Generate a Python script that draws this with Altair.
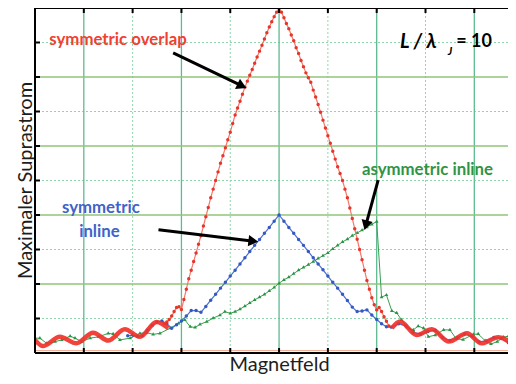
import math
import altair as alt
import pandas as pd
import numpy as np

FONT = "Lato"
XMAX = 9.69          # visible part of the field axis (gridlines at 1..9)
W, H = 473, 345
PX_X = W / XMAX
PX_Y = H / 10.0
X_TITLE = "Magnetfeld"
Y_TITLE = "Maximaler Suprastrom"

# ---------------- data ----------------
# symmetric overlap: thick oscillating background (red)
red_wave_left_x = [0.00, 0.16, 0.51, 0.85, 1.19, 1.50, 1.84, 2.15, 2.49, 2.73]
red_wave_left_y = [0.38, 0.20, 0.47, 0.28, 0.59, 0.36, 0.69, 0.47, 0.90, 0.72]
red_wave_right_x = [7.31, 7.48, 7.82, 8.13, 8.48, 8.85, 9.15, 9.49, 9.86]
red_wave_right_y = [0.72, 0.91, 0.52, 0.69, 0.33, 0.57, 0.28, 0.46, 0.17]

# symmetric overlap: main lobe, sampled every 0.05 from 2.65
red_lobe_start, red_lobe_step = 2.65, 0.05
red_lobe_y = [0.85, 0.90, 0.97, 1.07, 1.20, 1.32, 1.34, 1.26,
              1.55, 1.85, 2.15, 2.40, 2.65, 2.90, 3.15, 3.40, 3.68, 3.95,
              4.22, 4.50, 4.75, 5.00, 5.25, 5.50, 5.72, 5.95, 6.18, 6.40,
              6.65, 6.90, 7.10, 7.30, 7.50, 7.70, 7.88, 8.05, 8.22, 8.40,
              8.58, 8.75, 8.92, 9.10, 9.28, 9.45, 9.60, 9.75, 9.88, 10.0,
              9.88, 9.72, 9.55, 9.40, 9.22, 9.05, 8.85, 8.68, 8.48, 8.30,
              8.12, 7.98, 7.85, 7.62, 7.42, 7.20, 6.98, 6.75, 6.52, 6.30,
              6.08, 5.85, 5.62, 5.40, 5.20, 5.00, 4.75, 4.50, 4.20, 3.90,
              3.60, 3.30, 3.00, 2.70, 2.40, 2.10, 1.85, 1.60, 1.40, 1.25,
              1.32, 1.20, 1.05, 0.92, 0.78]

# symmetric inline (blue)
blue_x = [1.9, 2.0, 2.1, 2.2, 2.3, 2.4, 2.5, 2.6, 2.7, 2.8, 2.9, 3.0, 3.1,
          3.2, 3.3, 3.4, 3.5, 3.6, 3.7, 3.8, 3.9, 4.0, 4.1, 4.2, 4.3, 4.4,
          4.5, 4.6, 4.7, 4.8, 4.9, 5.0, 5.1, 5.2, 5.3, 5.4, 5.5, 5.6, 5.7,
          5.8, 5.9, 6.0, 6.1, 6.2, 6.3, 6.4, 6.5, 6.6, 6.7, 6.8, 6.9, 7.0,
          7.1, 7.2, 7.3, 7.45, 7.6, 7.75, 7.9, 8.05, 8.2, 8.35, 8.5, 8.65,
          8.8, 8.95, 9.1, 9.25, 9.4, 9.55, 9.7, 9.85]
blue_y = [0.50, 0.52, 0.48, 0.50, 0.66, 0.80, 0.90, 0.93, 0.85, 0.72, 0.82,
          0.93, 1.07, 1.23, 1.23, 1.18, 1.35, 1.53, 1.70, 1.88, 2.05, 2.23,
          2.40, 2.58, 2.76, 2.94, 3.12, 3.29, 3.47, 3.64, 3.82, 4.00, 3.82,
          3.64, 3.47, 3.29, 3.12, 2.94, 2.76, 2.58, 2.41, 2.23, 2.05, 1.88,
          1.70, 1.52, 1.33, 1.20, 1.22, 1.25, 1.10, 0.97, 0.85, 0.76, 0.75,
          0.85, 0.78, 0.60, 0.55, 0.62, 0.66, 0.45, 0.36, 0.45, 0.55, 0.48,
          0.32, 0.35, 0.45, 0.42, 0.30, 0.22]

# asymmetric inline (green)
green_x = [0.00, 0.10, 0.24, 0.41, 0.55, 0.72, 0.82, 0.96, 1.13, 1.30, 1.50,
           1.60, 1.74, 1.95, 2.15, 2.29, 2.42, 2.56, 2.77, 2.94, 3.07, 3.18,
           3.28, 3.38, 3.52, 3.65, 3.79, 3.89,
           4.0, 4.1, 4.2, 4.3, 4.4, 4.5, 4.6, 4.7, 4.8, 4.9, 5.0, 5.1, 5.2,
           5.3, 5.4, 5.5, 5.6, 5.7, 5.8, 5.9, 6.0, 6.1, 6.2, 6.3, 6.4, 6.5,
           6.6, 6.7, 6.8, 6.9, 7.0,
           7.10, 7.20, 7.31, 7.41, 7.51, 7.62, 7.75, 7.85, 7.96, 8.06, 8.20,
           8.37, 8.50, 8.63, 8.77, 8.98, 9.08, 9.22, 9.34, 9.47, 9.60, 9.70,
           9.84]
green_y = [0.43, 0.43, 0.28, 0.33, 0.38, 0.49, 0.43, 0.33, 0.43, 0.47, 0.57,
           0.55, 0.38, 0.43, 0.57, 0.59, 0.54, 0.57, 0.72, 0.86, 0.96, 0.76,
           0.74, 0.83, 0.91, 1.01, 1.10, 1.20,
           1.15, 1.20, 1.27, 1.36, 1.45, 1.54, 1.62, 1.70, 1.80, 1.90, 2.02,
           2.12, 2.20, 2.30, 2.40, 2.48, 2.56, 2.65, 2.74, 2.82, 2.90, 3.02,
           3.12, 3.22, 3.30, 3.40, 3.48, 3.56, 3.65, 3.73, 3.81,
           1.62, 1.68, 1.22, 1.16, 0.96, 0.75, 0.67, 0.78, 0.72, 0.47, 0.52,
           0.67, 0.67, 0.41, 0.39, 0.54, 0.55, 0.36, 0.26, 0.33, 0.46, 0.49,
           0.47]

# gridlines / ticks
grid_v_major = [1, 3, 5, 7, 9]
grid_v_minor = [2, 4, 6, 8]
grid_h_major = [2, 4, 6, 8]
grid_h_minor = [1, 3, 5, 7, 9]
tick_x = [1, 2, 3, 4, 5, 6, 7, 8, 9]
tick_y = [1, 2, 3, 4, 5, 6, 7, 8, 9]

# annotations
arrow_x0 = [2.83, 2.53, 7.03]
arrow_y0 = [8.70, 3.57, 5.01]
arrow_x1 = [4.30, 4.54, 6.76]
arrow_y1 = [7.70, 3.23, 3.61]

label_text = ["symmetric overlap", "symmetric", "inline", "asymmetric inline"]
label_x = [1.70, 1.35, 1.32, 8.04]
label_y = [9.07, 4.20, 3.51, 5.30]
label_color = ["#f2402f", "#3f63c9", "#3f63c9", "#2f9446"]

# ---------------- frames ----------------
red_lobe_x = list(np.round(red_lobe_start + red_lobe_step * np.arange(len(red_lobe_y)), 2))
red_lobe = pd.DataFrame({"x": red_lobe_x, "y": red_lobe_y})
red_wave = pd.DataFrame({
    "x": red_wave_left_x + red_wave_right_x,
    "y": red_wave_left_y + red_wave_right_y,
    "seg": ["L"] * len(red_wave_left_x) + ["R"] * len(red_wave_right_x),
})
blue = pd.DataFrame({"x": blue_x, "y": blue_y})
green = pd.DataFrame({"x": green_x, "y": green_y})

HEAD_SIZE = 130
head_h = math.sqrt(HEAD_SIZE) / 2 * math.sqrt(3) / 2
rows = []
for x0, y0, x1, y1 in zip(arrow_x0, arrow_y0, arrow_x1, arrow_y1):
    dx = (x1 - x0) * PX_X
    dy = -(y1 - y0) * PX_Y
    L = math.hypot(dx, dy)
    ux, uy = dx / L, dy / L
    cx = x1 - ux * head_h / PX_X
    cy = y1 + uy * head_h / PX_Y
    ang = math.degrees(math.atan2(dx, -dy)) % 360
    rows.append({"x0": x0, "y0": y0, "cx": cx, "cy": cy, "angle": ang})
arrows = pd.DataFrame(rows)

labels = pd.DataFrame({"x": label_x, "y": label_y, "t": label_text, "c": label_color})

xs = alt.Scale(domain=[0, XMAX], nice=False, zero=False)
ys = alt.Scale(domain=[0, 10], nice=False, zero=False)


def X(f="x"):
    return alt.X(f"{f}:Q", scale=xs, title=X_TITLE)


def Y(f="y"):
    return alt.Y(f"{f}:Q", scale=ys, title=Y_TITLE)


vminor = alt.Chart(pd.DataFrame({"x": grid_v_minor})).mark_rule(
    color="#8fd6ae", strokeWidth=1, strokeDash=[2, 2]).encode(x=X())
hminor = alt.Chart(pd.DataFrame({"y": grid_h_minor})).mark_rule(
    color="#8fd6ae", strokeWidth=1, strokeDash=[2, 2]).encode(y=Y())
vmajor = alt.Chart(pd.DataFrame({"x": grid_v_major})).mark_rule(
    color="#5dbb8f", strokeWidth=1.3).encode(x=X())
hmajor = alt.Chart(pd.DataFrame({"y": grid_h_major})).mark_rule(
    color="#92c57a", strokeWidth=1.3).encode(y=Y())
baseline = alt.Chart(pd.DataFrame({"y": [0.07]})).mark_rule(
    color="#f4ab92", strokeWidth=1).encode(y=Y())

green_l = alt.Chart(green).mark_line(
    color="#37a051", strokeWidth=1, clip=True,
    point=alt.OverlayMarkDef(shape="triangle", filled=True, size=14, color="#2a9444"),
).encode(x=X(), y=Y(), order=alt.Order("x:Q"))
blue_l = alt.Chart(blue).mark_line(
    color="#4d6fd2", strokeWidth=1.2, clip=True,
    point=alt.OverlayMarkDef(shape="circle", filled=True, size=12, color="#3559c4"),
).encode(x=X(), y=Y(), order=alt.Order("x:Q"))
red_l = alt.Chart(red_lobe).mark_line(
    color="#f3786c", strokeWidth=1.2, clip=True,
    point=alt.OverlayMarkDef(shape="circle", filled=True, size=12, color="#e8352a"),
).encode(x=X(), y=Y(), order=alt.Order("x:Q"))
red_w = alt.Chart(red_wave).mark_line(
    color="#f0332a", strokeWidth=4.5, interpolate="monotone", clip=True, opacity=0.92,
).encode(x=X(), y=Y(), detail="seg:N", order=alt.Order("x:Q"))

frame_v = alt.Chart(pd.DataFrame({"x": [0]})).mark_rule(
    color="black", strokeWidth=2).encode(x=X())
frame_h = alt.Chart(pd.DataFrame({"y": [0, 10]})).mark_rule(
    color="black", strokeWidth=2).encode(y=Y())
ticks_top = alt.Chart(pd.DataFrame({"x": tick_x})).mark_rule(
    color="black", strokeWidth=2).encode(x=X(), y=alt.value(0), y2=alt.value(5))
ticks_bot = alt.Chart(pd.DataFrame({"x": tick_x})).mark_rule(
    color="black", strokeWidth=2).encode(x=X(), y=alt.value(H), y2=alt.value(H - 5))
ticks_left = alt.Chart(pd.DataFrame({"y": tick_y})).mark_rule(
    color="black", strokeWidth=2).encode(y=Y(), x=alt.value(0), x2=alt.value(5))

shafts = alt.Chart(arrows).mark_rule(color="black", strokeWidth=3).encode(
    x=X("x0"), y=Y("y0"),
    x2=alt.X2("cx:Q", title=X_TITLE), y2=alt.Y2("cy:Q", title=Y_TITLE))
heads = alt.Chart(arrows).mark_point(
    shape="triangle", filled=True, size=HEAD_SIZE, color="black", opacity=1).encode(
    x=X("cx"), y=Y("cy"), angle=alt.Angle("angle:Q", scale=None))

texts = alt.Chart(labels).mark_text(
    font=FONT, fontSize=16.8, fontWeight="bold", align="center", baseline="middle").encode(
    x=X(), y=Y(), text="t:N", color=alt.Color("c:N", scale=None))

ratio_main = alt.Chart(pd.DataFrame({"x": [7.48], "y": [9.01], "t": ["L / λ"]})).mark_text(
    font=FONT, fontSize=20, fontWeight="bold", fontStyle="italic", align="left",
    baseline="middle", color="black").encode(x=X(), y=Y(), text="t:N")
ratio_sub = alt.Chart(pd.DataFrame({"x": [8.50], "y": [8.72], "t": ["J"]})).mark_text(
    font=FONT, fontSize=11, fontWeight="bold", fontStyle="italic", align="center",
    baseline="middle", color="black").encode(x=X(), y=Y(), text="t:N")
ratio_val = alt.Chart(pd.DataFrame({"x": [8.63], "y": [9.01], "t": ["= 10"]})).mark_text(
    font=FONT, fontSize=18, fontWeight="bold", align="left",
    baseline="middle", color="black").encode(x=X(), y=Y(), text="t:N")

chart = alt.layer(
    vminor, hminor, vmajor, hmajor, baseline,
    green_l, blue_l, red_l, red_w,
    frame_v, frame_h, ticks_top, ticks_bot, ticks_left,
    shafts, heads, texts, ratio_main, ratio_sub, ratio_val,
).properties(
    width=W, height=H, autosize="none",
    padding={"left": 27, "top": 0, "right": 0, "bottom": 23},
).configure_view(
    stroke=None
).configure_axis(
    labels=False, ticks=False, domain=False, grid=False,
    titleFont=FONT, titleFontWeight="normal", titleColor="#1e1e1e",
).configure_axisX(
    titlePadding=1, titleFontSize=20, titleX=244
).configure_axisY(
    titlePadding=0, titleFontSize=20, titleY=172
)

chart.save("out.html", embed_options={"renderer": "svg", "actions": False})
